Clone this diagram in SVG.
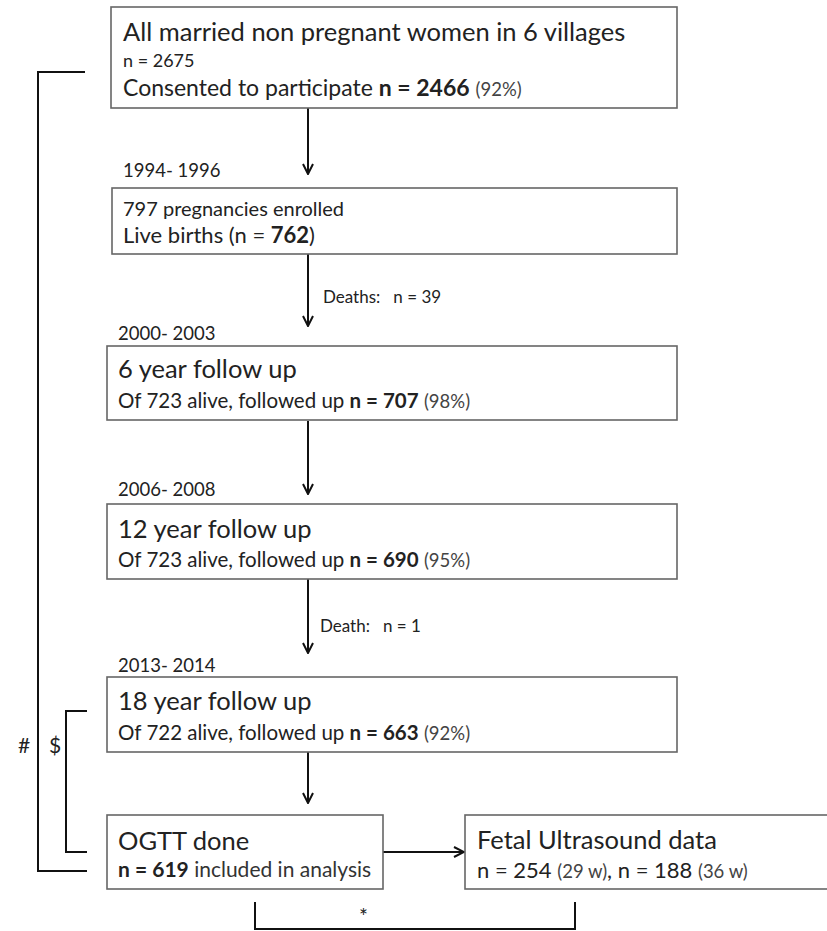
<svg xmlns="http://www.w3.org/2000/svg" width="827" height="931" viewBox="0 0 827 931">
<defs>
<style>
.bx{fill:#fff;stroke:#666;stroke-width:1.6}
.t{font-family:Lato,"Open Sans","Liberation Sans",sans-serif;fill:#222}
.h{font-size:25.5px}
.s{font-size:20.5px}
.yr{font-size:18.5px}
.lb{font-size:17px}
.p{fill:#444;font-size:18.5px}
.b{font-weight:bold}
.cn{fill:none;stroke:#111;stroke-width:2}
</style>
<marker id="ah" viewBox="0 0 12 12" refX="11" refY="6" markerWidth="12" markerHeight="12" orient="auto" markerUnits="userSpaceOnUse">
<path d="M1,1 L11,6 L1,11" fill="none" stroke="#111" stroke-width="2"/>
</marker>
</defs>
<rect width="827" height="931" fill="#fff"/>

<g id="connectors">
<line class="cn" x1="308" y1="108" x2="308" y2="174" marker-end="url(#ah)"/>
<line class="cn" x1="308" y1="254" x2="308" y2="326" marker-end="url(#ah)"/>
<line class="cn" x1="308" y1="421" x2="308" y2="494" marker-end="url(#ah)"/>
<line class="cn" x1="308" y1="579" x2="308" y2="653" marker-end="url(#ah)"/>
<line class="cn" x1="308" y1="752" x2="308" y2="803" marker-end="url(#ah)"/>
<line class="cn" x1="383" y1="852" x2="464" y2="852" marker-end="url(#ah)"/>
<path class="cn" d="M85,72 H38 V871 H87"/>
<path class="cn" d="M87,711 H66 V852 H87"/>
<path class="cn" d="M255,902 V929 H575 V902"/>
<text class="t lb" x="323" y="303" xml:space="preserve">Deaths:   n = 39</text>
<text class="t lb" x="320" y="632" xml:space="preserve">Death:   n = 1</text>
<text class="t" x="18" y="753" font-size="21">#</text>
<text class="t" x="49" y="753" font-size="21">$</text>
<text class="t" x="359" y="924" font-size="21">*</text>
</g>

<g id="n1">
<rect class="bx" x="111" y="7" width="566" height="101"/>
<text class="t h" x="123" y="41">All married non pregnant women in 6 villages</text>
<text class="t" x="123" y="67" font-size="18">n = 2675</text>
<text class="t" x="123" y="96" font-size="23">Consented to participate <tspan class="b">n = 2466</tspan> <tspan class="p" font-size="21">(92%)</tspan></text>
</g>

<g id="n2">
<text class="t yr" x="123" y="177">1994- 1996</text>
<rect class="bx" x="112" y="188" width="565" height="66"/>
<text class="t" x="123" y="216" font-size="20">797 pregnancies enrolled</text>
<text class="t" x="123" y="243" font-size="22">Live births (n = <tspan class="b">762</tspan>)</text>
</g>

<g id="n3">
<text class="t yr" x="118" y="340">2000- 2003</text>
<rect class="bx" x="107" y="346" width="570" height="74"/>
<text class="t h" x="118" y="378">6 year follow up</text>
<text class="t s" x="118" y="408">Of 723 alive, followed up <tspan class="b">n = 707</tspan> <tspan class="p">(98%)</tspan></text>
</g>

<g id="n4">
<text class="t yr" x="118" y="496">2006- 2008</text>
<rect class="bx" x="107" y="504" width="570" height="75"/>
<text class="t h" x="118" y="538">12 year follow up</text>
<text class="t s" x="118" y="567">Of 723 alive, followed up <tspan class="b">n = 690</tspan> <tspan class="p">(95%)</tspan></text>
</g>

<g id="n5">
<text class="t yr" x="118" y="672">2013- 2014</text>
<rect class="bx" x="107" y="677" width="570" height="75"/>
<text class="t h" x="118" y="710">18 year follow up</text>
<text class="t s" x="118" y="740">Of 722 alive, followed up <tspan class="b">n = 663</tspan> <tspan class="p">(92%)</tspan></text>
</g>

<g id="n6">
<rect class="bx" x="107" y="815" width="276" height="74"/>
<text class="t h" x="118" y="850">OGTT done</text>
<text class="t" x="118" y="877" font-size="21"><tspan class="b">n = 619</tspan> <tspan fill="#333">included in analysis</tspan></text>
</g>

<g id="n7">
<rect class="bx" x="465" y="815" width="365" height="74"/>
<text class="t h" x="477" y="849" font-size="26">Fetal Ultrasound data</text>
<text class="t" x="477" y="878" font-size="22">n = 254 <tspan class="p" font-size="20">(29 w)</tspan>, n = 188 <tspan class="p" font-size="20">(36 w)</tspan></text>
</g>
</svg>
